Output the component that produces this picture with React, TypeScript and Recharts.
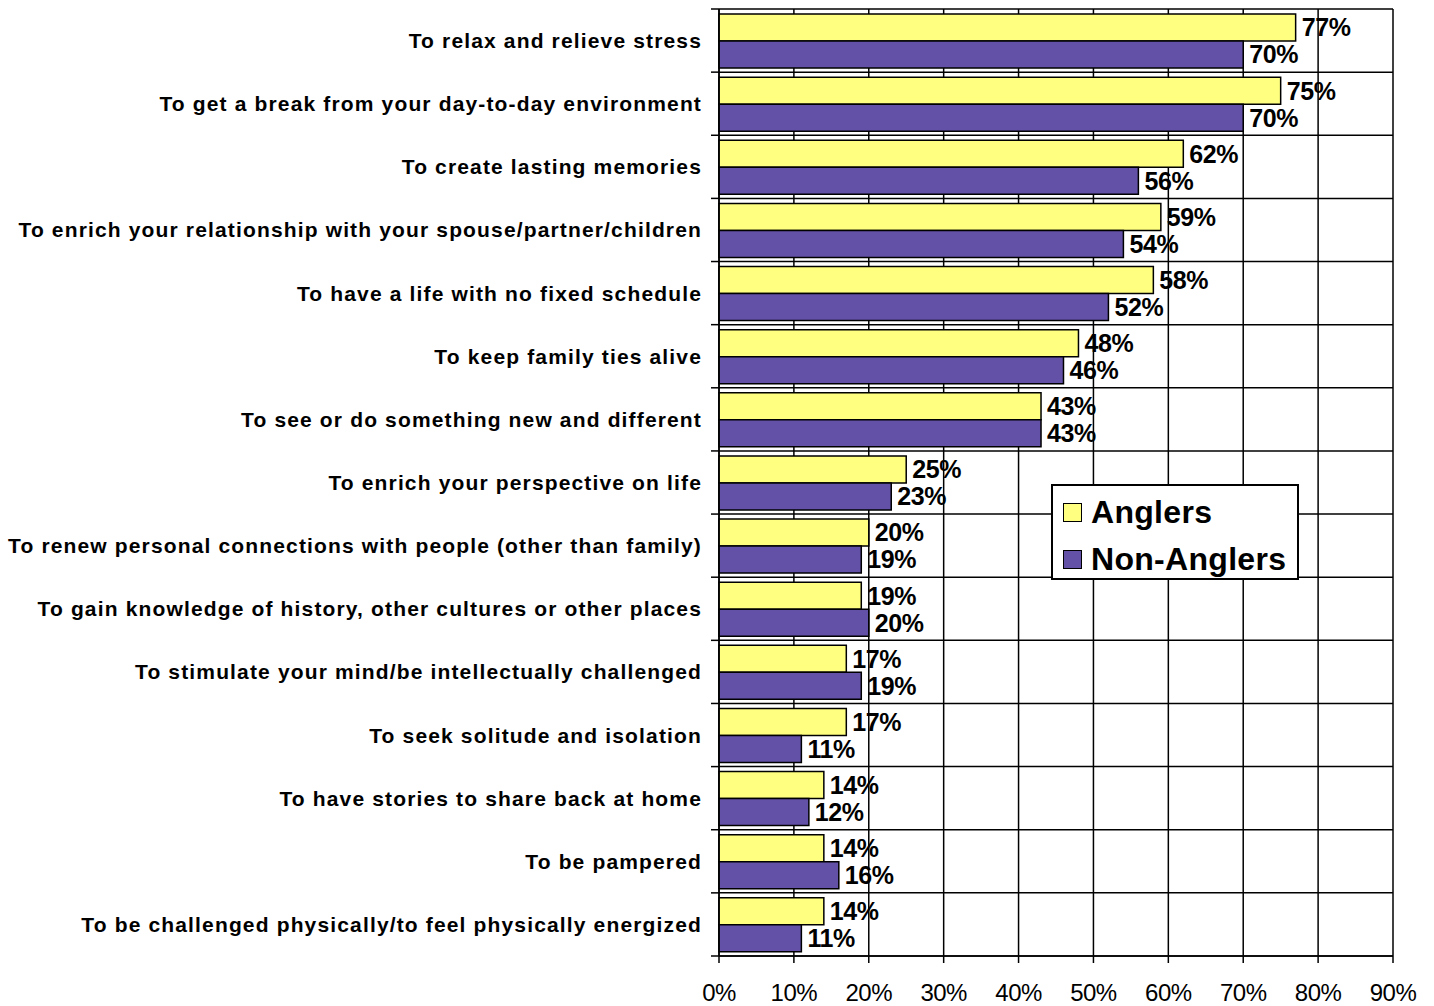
import React from 'react';
import { BarChart, Bar, XAxis, YAxis, CartesianGrid, Legend, LabelList } from 'recharts';

const reasons = [
  'To relax and relieve stress',
  'To get a break from your day-to-day environment',
  'To create lasting memories',
  'To enrich your relationship with your spouse/partner/children',
  'To have a life with no fixed schedule',
  'To keep family ties alive',
  'To see or do something new and different',
  'To enrich your perspective on life',
  'To renew personal connections with people (other than family)',
  'To gain knowledge of history, other cultures or other places',
  'To stimulate your mind/be intellectually challenged',
  'To seek solitude and isolation',
  'To have stories to share back at home',
  'To be pampered',
  'To be challenged physically/to feel physically energized',
];

const anglers = [77, 75, 62, 59, 58, 48, 43, 25, 20, 19, 17, 17, 14, 14, 14];
const nonAnglers = [70, 70, 56, 54, 52, 46, 43, 23, 19, 20, 19, 11, 12, 16, 11];

const xTicks = [0, 10, 20, 30, 40, 50, 60, 70, 80, 90];

const data = reasons.map((name, i) => ({ name, anglers: anglers[i], nonAnglers: nonAnglers[i] }));

const W = 1434;
const H = 1006;
const TOP = 9;
const BOTTOM_AXIS = 50;
const BAND = (H - TOP - BOTTOM_AXIS) / reasons.length;
const FONT = '"Liberation Sans", Arial, sans-serif';

const YTick = (props: any) => {
  const { x, y, payload, index } = props;
  const last = index === reasons.length - 1;
  return (
    <g>
      <line x1={x - 8} x2={x} y1={y - BAND / 2} y2={y - BAND / 2} stroke="#000" strokeWidth={1.5} />
      {last && <line x1={x - 8} x2={x} y1={y + BAND / 2} y2={y + BAND / 2} stroke="#000" strokeWidth={1.5} />}
      <text
        x={x - 17}
        y={y}
        textAnchor="end"
        dominantBaseline="central"
        fontFamily={FONT}
        fontWeight="bold"
        fontSize={21}
        letterSpacing={1.15}
        fill="#000"
      >
        {payload.value}
      </text>
    </g>
  );
};

const renderLegend = (props: any) => {
  const { payload } = props;
  return (
    <div
      style={{
        border: '2px solid #000',
        background: '#fff',
        boxSizing: 'border-box',
        width: 248,
        height: 96,
        padding: '3px 0 0 10px',
        fontFamily: FONT,
      }}
    >
      {payload.map((entry: any) => (
        <div key={entry.value} style={{ display: 'flex', alignItems: 'center', height: 47 }}>
          <span
            style={{
              display: 'inline-block',
              width: 17,
              height: 17,
              background: entry.color,
              border: '1.5px solid #000',
              marginRight: 9,
            }}
          />
          <span style={{ fontSize: 32, fontWeight: 'bold', color: '#000', letterSpacing: 0.3 }}>{entry.value}</span>
        </div>
      ))}
    </div>
  );
};

const valueLabelStyle = { fill: '#000', fontSize: 25, fontWeight: 'bold', fontFamily: FONT, letterSpacing: -0.4 };

export default function App() {
  return (
    <div style={{ position: 'absolute', left: 0, top: 0, background: '#fff' }}>
      <BarChart
        width={W}
        height={H}
        data={data}
        layout="vertical"
        margin={{ top: TOP, right: 41, bottom: 0, left: 0 }}
        barCategoryGap={5}
        barGap={0}
      >
        <CartesianGrid
          stroke="#000"
          strokeWidth={1.5}
          horizontalCoordinatesGenerator={({ offset }: any) =>
            reasons.concat(['']).map((_, i) => offset.top + (i * offset.height) / reasons.length)
          }
        />
        <XAxis
          type="number"
          domain={[0, 90]}
          ticks={xTicks}
          interval={0}
          tickFormatter={(v) => `${v}%`}
          height={BOTTOM_AXIS}
          tickSize={7}
          tickMargin={21}
          axisLine={{ stroke: '#000', strokeWidth: 1.5 }}
          tickLine={{ stroke: '#000', strokeWidth: 1.5 }}
          tick={{ fill: '#000', fontSize: 24, fontFamily: FONT, letterSpacing: -0.5 }}
        />
        <YAxis
          type="category"
          dataKey="name"
          width={719}
          axisLine={{ stroke: '#000', strokeWidth: 1.5 }}
          tickLine={false}
          tickSize={0}
          tickMargin={0}
          interval={0}
          tick={<YTick />}
        />
        <Legend
          layout="horizontal"
          verticalAlign="middle"
          align="center"
          content={renderLegend}
          wrapperStyle={{ position: 'absolute', left: 1051, top: 484, width: 248, height: 96 }}
        />
        <Bar dataKey="anglers" name="Anglers" fill="#FFFF80" stroke="#000" strokeWidth={1.5} isAnimationActive={false}>
          <LabelList
            dataKey="anglers"
            position="right"
            offset={6}
            formatter={(v: any) => `${v}%`}
            style={valueLabelStyle}
          />
        </Bar>
        <Bar dataKey="nonAnglers" name="Non-Anglers" fill="#6351A8" stroke="#000" strokeWidth={1.5} isAnimationActive={false}>
          <LabelList
            dataKey="nonAnglers"
            position="right"
            offset={6}
            formatter={(v: any) => `${v}%`}
            style={valueLabelStyle}
          />
        </Bar>
      </BarChart>
    </div>
  );
}
